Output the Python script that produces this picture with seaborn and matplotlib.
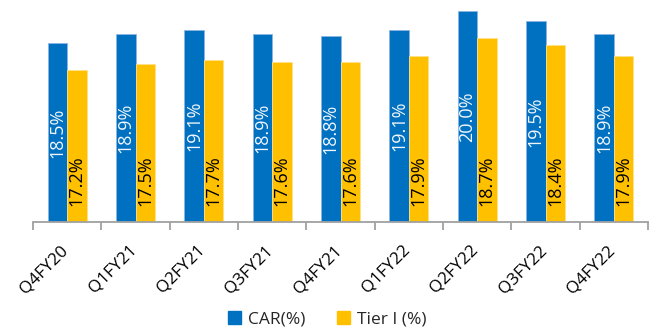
import matplotlib
matplotlib.use("Agg")
import matplotlib.pyplot as plt
from matplotlib.transforms import ScaledTranslation
import seaborn as sns
import pandas as pd

quarters = ["Q4FY20", "Q1FY21", "Q2FY21", "Q3FY21", "Q4FY21",
            "Q1FY22", "Q2FY22", "Q3FY22", "Q4FY22"]
car = [18.5, 18.9, 19.1, 18.9, 18.8, 19.1, 20.0, 19.5, 18.9]
tier1 = [17.2, 17.5, 17.7, 17.6, 17.6, 17.9, 18.7, 18.4, 17.9]
series_names = ["CAR(%)", "Tier I (%)"]
colors = ["#0070C0", "#FFC000"]
edge_colors = ["#8DB4E2", "#FFE08A"]

df = pd.DataFrame({
    "quarter": quarters * 2,
    "value": car + tier1,
    "series": [series_names[0]] * len(quarters) + [series_names[1]] * len(quarters),
})

sns.set_theme(style="white")
plt.rcParams["font.family"] = ["Open Sans", "DejaVu Sans"]

fig = plt.figure(figsize=(6.55, 3.3), dpi=100)
ax = fig.add_axes([33 / 655, 1 - 222 / 330, 615 / 655, 222 / 330])

sns.barplot(data=df, x="quarter", y="value", hue="series",
            palette=colors, width=0.57, gap=0, ax=ax, legend=False,
            saturation=1, errorbar=None)

ymin, ymax = 10.1, 20.5
ax.set_ylim(ymin, ymax)

# thin lighter outline on each bar
for cont, ec in zip(ax.containers, edge_colors):
    for bar in cont:
        bar.set_edgecolor(ec)
        bar.set_linewidth(0.6)

# value labels: CAR centred in the bar, Tier I near the base
car_bars, tier_bars = ax.containers[0], ax.containers[1]
for bar, v in zip(car_bars, car):
    x = bar.get_x() + bar.get_width() / 2
    ax.text(x, (ymin + v) / 2, f"{v:.1f}%", rotation=90, ha="center",
            va="center", color="#F2F7FC", fontsize=13)
for bar, v in zip(tier_bars, tier1):
    x = bar.get_x() + bar.get_width() / 2
    ax.text(x, ymin + 0.75, f"{v:.1f}%", rotation=90, ha="center",
            va="bottom", color="black", fontsize=13)

# axis styling
for side in ["top", "right", "left"]:
    ax.spines[side].set_visible(False)
ax.spines["bottom"].set_color("#A0A0A0")
ax.spines["bottom"].set_linewidth(1.3)
ax.set_yticks([])
ax.set_xlabel("")
ax.set_ylabel("")

# tick marks at category boundaries
ax.set_xlim(-0.5, len(quarters) - 0.5)
ax.set_xticks([i - 0.5 for i in range(len(quarters) + 1)], minor=True)
ax.tick_params(axis="x", which="minor", bottom=True, length=6, width=1.3,
               color="#A0A0A0")
ax.tick_params(axis="x", which="major", bottom=False, length=0, pad=14.5)
ax.set_xticks(range(len(quarters)))
ax.set_xticklabels(quarters, rotation=45, ha="right", va="top",
                   rotation_mode="anchor", fontsize=12.3, color="black")
shift = ScaledTranslation(-7 / 100, 0, fig.dpi_scale_trans)
for lbl in ax.get_xticklabels():
    lbl.set_transform(lbl.get_transform() + shift)

handles = [plt.Rectangle((0, 0), 1, 1, color=c) for c in colors]
fig.legend(handles, series_names, loc="center", bbox_to_anchor=(0.5, 1 - 319 / 330),
           ncol=2, frameon=False, fontsize=12.5, handlelength=0.75,
           handleheight=0.75, handletextpad=0.4, columnspacing=1.8,
           borderaxespad=0, borderpad=0)

fig.savefig("out.png", dpi=100)
